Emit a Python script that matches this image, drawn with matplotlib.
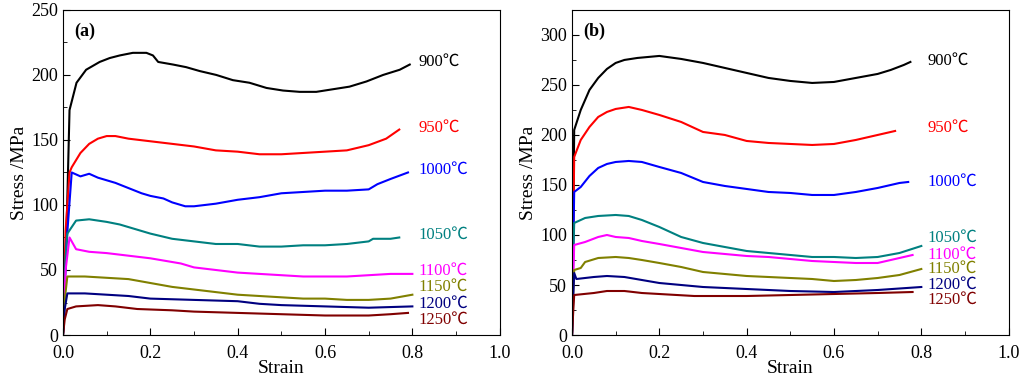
import matplotlib
matplotlib.use("Agg")
import matplotlib.pyplot as plt
from matplotlib.ticker import MultipleLocator

plt.rcParams['font.family'] = ['Liberation Serif', 'Noto Sans CJK SC', 'DejaVu Serif']
plt.rcParams['mathtext.fontset'] = 'stix'

temps = ["900℃", "950℃", "1000℃", "1050℃", "1100℃", "1150℃", "1200℃", "1250℃"]
colors = ["#000000", "#ff0000", "#0000ff", "#008080", "#ff00ff", "#808000", "#000080", "#800000"]

# panel (a) curves: strain, stress
a_x = [
    [0, 0.004, 0.008, 0.015, 0.031, 0.053, 0.084, 0.107, 0.13, 0.16, 0.191, 0.206, 0.218, 0.252, 0.282, 0.313,
     0.351, 0.389, 0.427, 0.466, 0.504, 0.542, 0.58, 0.618, 0.656, 0.695, 0.733, 0.771, 0.794],
    [0, 0.006, 0.015, 0.02, 0.04, 0.06, 0.08, 0.1, 0.12, 0.15, 0.2, 0.25, 0.3, 0.35, 0.4, 0.45, 0.5, 0.55,
     0.6, 0.65, 0.7, 0.74, 0.77],
    [0, 0.008, 0.02, 0.04, 0.06, 0.08, 0.1, 0.12, 0.15, 0.18, 0.2, 0.23, 0.25, 0.28, 0.3, 0.35, 0.4, 0.45,
     0.5, 0.55, 0.6, 0.65, 0.7, 0.72, 0.75, 0.79],
    [0, 0.006, 0.01, 0.03, 0.06, 0.1, 0.13, 0.16, 0.2, 0.25, 0.3, 0.35, 0.4, 0.45, 0.5, 0.55, 0.6, 0.65,
     0.7, 0.71, 0.75, 0.77],
    [0, 0.006, 0.015, 0.03, 0.06, 0.1, 0.15, 0.2, 0.27, 0.3, 0.35, 0.4, 0.45, 0.5, 0.55, 0.6, 0.65, 0.7,
     0.75, 0.8],
    [0, 0.005, 0.01, 0.05, 0.1, 0.15, 0.2, 0.25, 0.3, 0.35, 0.4, 0.45, 0.5, 0.55, 0.6, 0.65, 0.7, 0.75, 0.8],
    [0, 0.004, 0.01, 0.05, 0.1, 0.15, 0.2, 0.3, 0.4, 0.45, 0.5, 0.6, 0.7, 0.8],
    [0, 0.004, 0.01, 0.03, 0.08, 0.12, 0.17, 0.25, 0.3, 0.4, 0.5, 0.6, 0.7, 0.75, 0.79],
]
a_y = [
    [0, 40, 78, 173, 194, 204, 210, 213, 215, 217, 217, 215, 210, 208, 206, 203,
     200, 196, 194, 190, 188, 187, 187, 189, 191, 195, 200, 204, 208],
    [0, 80, 125, 129, 140, 147, 151, 153, 153, 151, 149, 147, 145, 142, 141, 139, 139, 140,
     141, 142, 146, 151, 158],
    [0, 70, 125, 122, 124, 121, 119, 117, 113, 109, 107, 105, 102, 99, 99, 101, 104, 106,
     109, 110, 111, 111, 112, 116, 120, 125],
    [0, 60, 78, 88, 89, 87, 85, 82, 78, 74, 72, 70, 70, 68, 68, 69, 69, 70,
     72, 74, 74, 75],
    [0, 50, 75, 66, 64, 63, 61, 59, 55, 52, 50, 48, 47, 46, 45, 45, 45, 46,
     47, 47],
    [0, 30, 45, 45, 44, 43, 40, 37, 35, 33, 31, 30, 29, 28, 28, 27, 27, 28, 31],
    [0, 20, 32, 32, 31, 30, 28, 27, 26, 24, 23, 22, 21, 22],
    [0, 12, 20, 22, 23, 22, 20, 19, 18, 17, 16, 15, 15, 16, 17],
]
a_label_y = [210, 159, 127, 77, 49.5, 37, 24, 12]

# panel (b) curves
b_x = [
    [0, 0.003, 0.005, 0.02, 0.04, 0.06, 0.08, 0.1, 0.12, 0.15, 0.2, 0.25, 0.3, 0.35, 0.4, 0.45, 0.5, 0.55,
     0.6, 0.65, 0.7, 0.73, 0.76, 0.775],
    [0, 0.003, 0.005, 0.02, 0.04, 0.06, 0.08, 0.1, 0.13, 0.16, 0.2, 0.25, 0.3, 0.35, 0.4, 0.45, 0.5, 0.55,
     0.6, 0.65, 0.7, 0.73, 0.74],
    [0, 0.003, 0.005, 0.02, 0.04, 0.06, 0.08, 0.1, 0.13, 0.16, 0.2, 0.25, 0.3, 0.35, 0.4, 0.45, 0.5, 0.55,
     0.6, 0.65, 0.7, 0.75, 0.77],
    [0, 0.003, 0.005, 0.03, 0.06, 0.1, 0.13, 0.16, 0.2, 0.25, 0.3, 0.35, 0.4, 0.45, 0.5, 0.55, 0.6, 0.65,
     0.7, 0.75, 0.8],
    [0, 0.003, 0.005, 0.03, 0.06, 0.08, 0.1, 0.13, 0.16, 0.2, 0.25, 0.3, 0.35, 0.4, 0.45, 0.5, 0.55, 0.6,
     0.65, 0.7, 0.75, 0.78],
    [0, 0.003, 0.005, 0.02, 0.03, 0.06, 0.1, 0.13, 0.16, 0.2, 0.25, 0.3, 0.35, 0.4, 0.45, 0.5, 0.55, 0.6,
     0.65, 0.7, 0.75, 0.8],
    [0, 0.003, 0.005, 0.01, 0.05, 0.08, 0.12, 0.16, 0.2, 0.25, 0.3, 0.4, 0.5, 0.6, 0.7, 0.8],
    [0, 0.003, 0.005, 0.05, 0.08, 0.12, 0.16, 0.2, 0.28, 0.4, 0.5, 0.6, 0.7, 0.78],
]
b_y = [
    [0, 120, 205, 225, 245, 257, 266, 272, 275, 277, 279, 276, 272, 267, 262, 257, 254, 252,
     253, 257, 261, 265, 270, 273],
    [0, 110, 178, 195, 208, 218, 223, 226, 228, 225, 220, 213, 203, 200, 194, 192, 191, 190,
     191, 195, 200, 203, 204],
    [0, 90, 143, 148, 159, 167, 171, 173, 174, 173, 168, 162, 153, 149, 146, 143, 142, 140,
     140, 143, 147, 152, 153],
    [0, 80, 112, 117, 119, 120, 119, 115, 108, 98, 92, 88, 84, 82, 80, 78, 78, 77,
     78, 82, 89],
    [0, 60, 90, 93, 98, 100, 98, 97, 94, 91, 87, 83, 81, 79, 78, 76, 74, 73,
     72, 72, 77, 80],
    [0, 45, 65, 67, 73, 77, 78, 77, 75, 72, 68, 63, 61, 59, 58, 57, 56, 54,
     55, 57, 60, 66],
    [0, 40, 62, 56, 58, 59, 58, 55, 52, 50, 48, 46, 44, 43, 45, 48],
    [0, 25, 40, 42, 44, 44, 42, 41, 39, 39, 40, 41, 42, 43],
]
b_label_y = [274, 207, 153, 97, 80, 66, 50, 35]

fig = plt.figure(figsize=(10.24, 3.82), dpi=100)
ax1 = fig.add_axes([0.0615, 0.123, 0.4265, 0.851])
ax2 = fig.add_axes([0.5586, 0.123, 0.4264, 0.851])


def draw(ax, xs, ys, label_y, ymax, ymajor, tag):
    for i in range(len(temps)):
        ax.plot(xs[i], ys[i], color=colors[i], lw=1.5)
        ax.text(0.815, label_y[i], temps[i], color=colors[i], fontsize=12,
                ha='left', va='center')
    ax.set_xlim(0, 1.0)
    ax.set_ylim(0, ymax)
    ax.xaxis.set_major_locator(MultipleLocator(0.2))
    ax.xaxis.set_minor_locator(MultipleLocator(0.1))
    ax.yaxis.set_major_locator(MultipleLocator(ymajor))
    ax.yaxis.set_minor_locator(MultipleLocator(ymajor / 2))
    ax.xaxis.set_major_formatter(plt.FormatStrFormatter('%.1f'))
    ax.tick_params(which='both', direction='in', top=False, right=False, labelsize=13)
    ax.tick_params(which='major', length=5)
    ax.tick_params(which='minor', length=3)
    ax.tick_params(axis='x', pad=7)
    ax.set_xlabel("Strain", fontsize=14, labelpad=-1)
    ax.set_ylabel("Stress /MPa", fontsize=14, labelpad=2)
    ax.text(0.025, 0.96, tag, transform=ax.transAxes, fontsize=13, fontweight='bold',
            ha='left', va='top')


draw(ax1, a_x, a_y, a_label_y, 250, 50, "(a)")
draw(ax2, b_x, b_y, b_label_y, 325, 50, "(b)")

fig.savefig("out.png", dpi=100)
